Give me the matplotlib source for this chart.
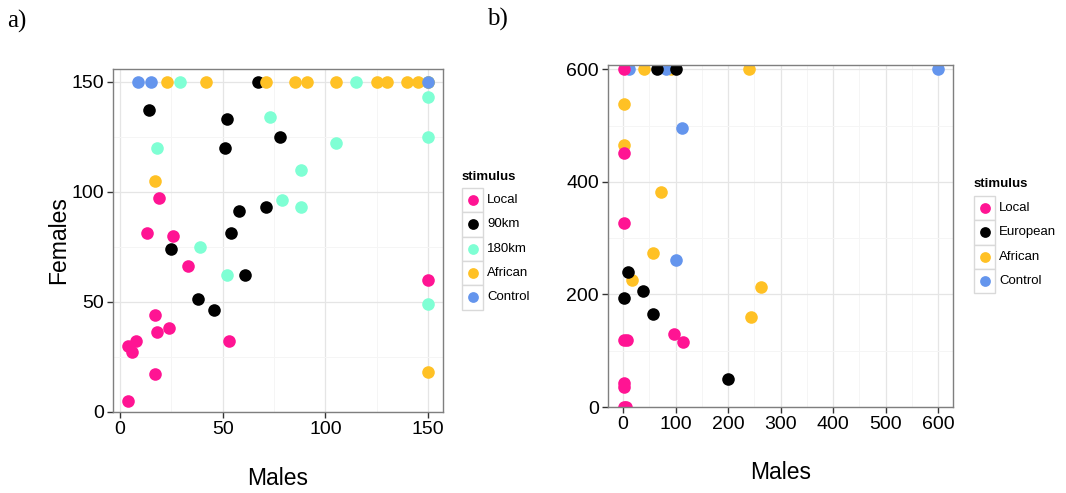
import matplotlib
matplotlib.use("Agg")
import matplotlib.pyplot as plt
from matplotlib.patches import Rectangle
from matplotlib.ticker import MultipleLocator

plt.rcParams['font.family'] = ['Liberation Sans', 'DejaVu Sans']

# colours per stimulus
PINK = '#FF1493'
BLACK = '#000000'
AQUA = '#7FFFD4'
GOLD = '#FFC125'
BLUE = '#6495ED'

# panel a) -- males vs females, stimulus distance
a_local_x = [19, 13, 26, 33, 150, 17, 18, 24, 8, 4, 6, 53, 17, 4]
a_local_y = [97, 81, 80, 66, 60, 44, 36, 38, 32, 30, 27, 32, 17, 5]
a_90_x = [67, 14, 52, 78, 51, 58, 71, 54, 25, 61, 38, 46]
a_90_y = [150, 137, 133, 125, 120, 91, 93, 81, 74, 62, 51, 46]
a_180_x = [29, 115, 150, 73, 105, 150, 150, 18, 88, 79, 88, 39, 52, 150]
a_180_y = [150, 150, 150, 134, 122, 143, 125, 120, 110, 96, 93, 75, 62, 49]
a_afr_x = [23, 42, 71, 85, 91, 105, 125, 130, 140, 145, 150, 17, 150]
a_afr_y = [150, 150, 150, 150, 150, 150, 150, 150, 150, 150, 150, 105, 18]
a_ctl_x = [9, 15, 150]
a_ctl_y = [150, 150, 150]

# panel b)
b_local_x = [1, 1, 1, 1, 8, 97, 115, 1, 1, 1, 6]
b_local_y = [600, 452, 327, 119, 119, 130, 116, 42, 35, 0, 0]
b_eur_x = [65, 101, 9, 39, 1, 58, 200]
b_eur_y = [600, 600, 240, 206, 193, 165, 49]
b_afr_x = [40, 91, 240, 1, 1, 73, 58, 17, 263, 244]
b_afr_y = [600, 600, 600, 539, 466, 382, 273, 225, 213, 160]
b_ctl_x = [12, 82, 600, 113, 100]
b_ctl_y = [600, 600, 600, 495, 262]

W, H = 1066, 493
fig = plt.figure(figsize=(W / 100, H / 100), dpi=100)


def px_axes(left, top, right, bottom):
    return fig.add_axes([left / W, 1 - bottom / H, (right - left) / W, (bottom - top) / H])


def style(ax, major, minor):
    ax.set_facecolor('white')
    for s in ax.spines.values():
        s.set_color('#7F7F7F')
        s.set_linewidth(1.0)
    ax.xaxis.set_major_locator(MultipleLocator(major[0]))
    ax.yaxis.set_major_locator(MultipleLocator(major[1]))
    ax.xaxis.set_minor_locator(MultipleLocator(minor[0]))
    ax.yaxis.set_minor_locator(MultipleLocator(minor[1]))
    ax.grid(which='major', color='#E5E5E5', linewidth=0.9)
    ax.grid(which='minor', color='#F5F5F5', linewidth=0.7)
    ax.set_axisbelow(True)
    ax.tick_params(which='major', length=4.5, width=1.0, color='#333333',
                   labelsize=14, pad=2)
    ax.tick_params(which='minor', length=0)


S = 82

axa = px_axes(113, 69, 443, 412)
style(axa, (50, 50), (25, 25))
axa.scatter(a_local_x, a_local_y, s=S, c=PINK, lw=0)
axa.scatter(a_90_x, a_90_y, s=S, c=BLACK, lw=0)
axa.scatter(a_180_x, a_180_y, s=S, c=AQUA, lw=0)
axa.scatter(a_afr_x, a_afr_y, s=S, c=GOLD, lw=0)
axa.scatter(a_ctl_x, a_ctl_y, s=S, c=BLUE, lw=0)
axa.set_xlim(-3.4, 157.3)
axa.set_ylim(-0.2, 155.8)
axa.set_xlabel('Males', fontsize=16.5, labelpad=21)
axa.set_ylabel('Females', fontsize=16.5, labelpad=1)

axb = px_axes(608, 65, 953, 407)
style(axb, (100, 200), (50, 100))
axb.scatter(b_afr_x, b_afr_y, s=S, c=GOLD, lw=0)
axb.scatter(b_ctl_x, b_ctl_y, s=S, c=BLUE, lw=0)
axb.scatter(b_eur_x, b_eur_y, s=S, c=BLACK, lw=0)
axb.scatter(b_local_x, b_local_y, s=S, c=PINK, lw=0)
axb.set_xlim(-28.5, 628)
axb.set_ylim(0, 607.5)
axb.set_xlabel('Males', fontsize=16.5, labelpad=20)

# overlay in pixel coordinates for panel letters and legends
over = fig.add_axes([0, 0, 1, 1], facecolor='none')
over.set_xlim(0, W)
over.set_ylim(H, 0)
over.axis('off')

over.text(7, 21, 'a)', family=['Liberation Serif'], fontsize=18, va='center', ha='left')
over.text(487, 19, 'b)', family=['Liberation Serif'], fontsize=18, va='center', ha='left')


def legend(x0, y_title, y_first, labels, colors):
    over.text(x0, y_title, 'stimulus', fontsize=9.5, fontweight='bold',
              va='center', ha='left')
    bw, bh = 21, 24.3
    for i, (lab, col) in enumerate(zip(labels, colors)):
        top = y_first + i * bh
        over.add_patch(Rectangle((x0, top), bw, bh, facecolor='white',
                                 edgecolor='#D9D9D9', lw=1.0))
        over.scatter([x0 + bw / 2], [top + bh / 2], s=60, c=col, lw=0, zorder=3)
        over.text(x0 + bw + 4, top + bh / 2, lab, fontsize=9.5,
                  va='center', ha='left')


legend(462, 177, 188, ['Local', '90km', '180km', 'African', 'Control'],
       [PINK, BLACK, AQUA, GOLD, BLUE])
legend(974, 184, 196, ['Local', 'European', 'African', 'Control'],
       [PINK, BLACK, GOLD, BLUE])

fig.savefig('out.png', dpi=100)
